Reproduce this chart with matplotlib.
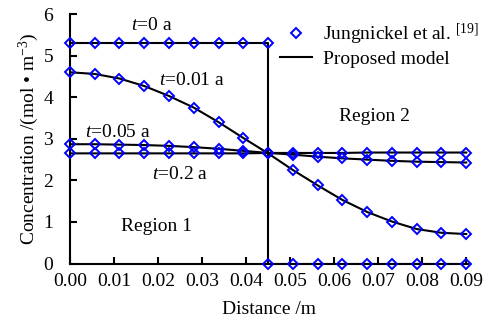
import matplotlib
matplotlib.use('Agg')
from matplotlib import pyplot as plt
from matplotlib.lines import Line2D

plt.rcParams['font.family'] = 'Liberation Serif'
plt.rcParams['mathtext.fontset'] = 'custom'
plt.rcParams['mathtext.rm'] = 'Liberation Serif'
plt.rcParams['mathtext.it'] = 'Liberation Serif:italic'

# sampling positions across both regions (interface at 0.045 m)
distance = [0.0, 0.005625, 0.01125, 0.016875, 0.0225, 0.028125, 0.03375, 0.039375, 0.045,
            0.050625, 0.05625, 0.061875, 0.0675, 0.073125, 0.07875, 0.084375, 0.09]

# t = 0 a: step profile
t0_region1 = [5.3] * 9
t0_region2 = [0.0] * 9
t0_line_x = [0.0, 0.045, 0.045, 0.09]
t0_line_y = [5.3, 5.3, 0.0, 0.0]

# t = 0.01 a
t001 = [4.60, 4.56, 4.45, 4.27, 4.03, 3.75, 3.40, 3.02, 2.65,
        2.25, 1.88, 1.53, 1.24, 1.01, 0.83, 0.74, 0.71]
# t = 0.05 a
t005 = [2.87, 2.87, 2.86, 2.85, 2.83, 2.80, 2.76, 2.71, 2.66,
        2.62, 2.57, 2.53, 2.50, 2.47, 2.45, 2.44, 2.43]
# t = 0.2 a
t02 = [2.65, 2.65, 2.65, 2.65, 2.65, 2.65, 2.65, 2.65, 2.66,
       2.66, 2.66, 2.66, 2.67, 2.67, 2.67, 2.67, 2.67]

fig = plt.figure(figsize=(4.89, 3.27), dpi=100)
ax = fig.add_axes([0.143, 0.194, 0.815, 0.763])

line_kw = dict(color='black', lw=1.5, zorder=2)
mark_kw = dict(ls='none', marker='D', ms=5, mfc='none', mec='#0000ff', mew=1.4,
               zorder=3, clip_on=False)

ax.plot(t0_line_x, t0_line_y, **line_kw)
ax.plot(distance, t001, **line_kw)
ax.plot(distance, t005, **line_kw)
ax.plot(distance, t02, **line_kw)

ax.plot(distance[:9], t0_region1, **mark_kw)
ax.plot(distance[8:], t0_region2, **mark_kw)
ax.plot(distance, t001, **mark_kw)
ax.plot(distance, t005, **mark_kw)
ax.plot(distance, t02, **mark_kw)

fs = 14
ax.text(0.0186, 5.73, '$t$=0 a', fontsize=fs, ha='center', va='center')
ax.text(0.0276, 4.41, '$t$=0.01 a', fontsize=fs, ha='center', va='center')
ax.text(0.0110, 3.14, '$t$=0.05 a', fontsize=fs, ha='center', va='center')
ax.text(0.0250, 2.13, '$t$=0.2 a', fontsize=fs, ha='center', va='center')
ax.text(0.0197, 0.89, 'Region 1', fontsize=fs, ha='center', va='center')
ax.text(0.0692, 3.53, 'Region 2', fontsize=fs, ha='center', va='center')

handles = [Line2D([], [], ls='none', marker='D', ms=5, mfc='none', mec='#0000ff', mew=1.4),
           Line2D([], [], color='black', lw=1.5)]
ax.legend(handles, ['Jungnickel et al. $^{[19]}$', 'Proposed model'],
          loc='upper left', bbox_to_anchor=(0.564, 0.945), bbox_transform=fig.transFigure,
          frameon=False, fontsize=fs, handlelength=1.65, handletextpad=0.57,
          labelspacing=0.18, borderpad=0.2, borderaxespad=0)

ax.set_xlim(0, 0.0905)
ax.set_ylim(0, 6)
ax.set_xticks([0.0, 0.01, 0.02, 0.03, 0.04, 0.05, 0.06, 0.07, 0.08, 0.09])
ax.set_yticks([0, 1, 2, 3, 4, 5, 6])
ax.set_xticklabels(['0.00', '0.01', '0.02', '0.03', '0.04', '0.05', '0.06', '0.07', '0.08', '0.09'])
ax.tick_params(direction='in', length=5, width=1.5, labelsize=fs)
ax.tick_params(axis='y', pad=12)
ax.tick_params(axis='x', pad=7)

for side in ['top', 'right']:
    ax.spines[side].set_visible(False)
for side in ['left', 'bottom']:
    ax.spines[side].set_linewidth(1.5)

ax.set_xlabel('Distance /m', fontsize=fs, labelpad=8)
ax.set_ylabel('Concentration /(mol \u2022 m$^{-3}$)', fontsize=fs, labelpad=2)

fig.savefig('out.png', dpi=100)
